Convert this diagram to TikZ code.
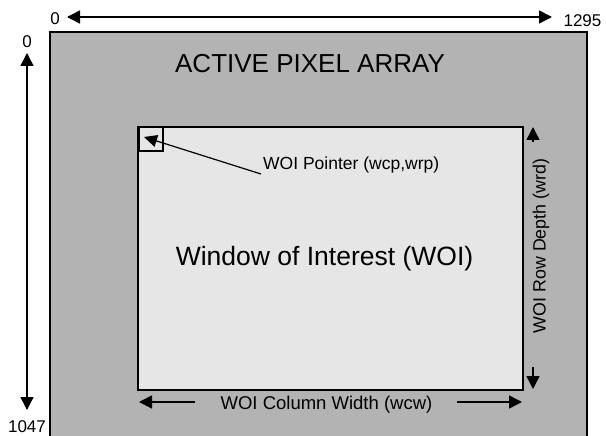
\documentclass[tikz,border=0pt]{standalone}
\usepackage{fontspec}
\setmainfont{Liberation Sans}
\usetikzlibrary{arrows.meta}
\definecolor{arraygray}{HTML}{B3B3B3}
\definecolor{woigray}{HTML}{E6E6E6}
\tikzset{
  dimarrow/.style={line width=1.5pt,-{Triangle[length=13pt,width=13pt]}},
  dimarrows/.style={line width=1.5pt,{Triangle[length=13pt,width=13pt]}-{Triangle[length=13pt,width=13pt]}},
  numlabel/.style={font=\fontsize{17}{20}\selectfont,inner sep=0pt,anchor=base},
  txt/.style={inner sep=0pt,anchor=base}
}
\begin{document}
\begin{tikzpicture}[x=1pt,y=-1pt]
\useasboundingbox (0,0) rectangle (606,436);
\fill[white] (0,0) rectangle (606,436);
% active pixel array
\fill[arraygray] (50,32) rectangle (587,436);
\draw[line width=2pt] (50,437) -- (50,32) -- (587,32) -- (587,437);
\node[txt,font=\fontsize{26}{30}\selectfont] (apa) at (310,73) {ACTIVE PIXEL ARRAY};
% top dimension
\node[numlabel] (x0) at (55,25) {0};
\node[numlabel] (x1) at (582.5,27) {1295};
\coordinate (tl) at (67,17);
\coordinate (tr) at (552,17);
\draw[dimarrows] (tl) -- (tr);
% left dimension
\node[numlabel] (y0) at (27,48) {0};
\node[numlabel] (y1) at (27,432) {1047};
\coordinate (lt) at (27,53);
\coordinate (lb) at (27,410);
\draw[dimarrows] (lt) -- (lb);
% window of interest
\node[draw,line width=2pt,fill=woigray,minimum width=385pt,minimum height=263pt,inner sep=0pt] (woi) at (330.5,258.5) {};
\node[txt,font=\fontsize{26.5}{30}\selectfont] (woitxt) at (324.5,265) {Window of Interest (WOI)};
% pointer box
\node[draw,line width=1.5pt,minimum width=24pt,minimum height=24pt,inner sep=0pt] (pbox) at (151,139) {};
\node[txt,anchor=base west,font=\fontsize{17.5}{20}\selectfont] (ptr) at (263,169) {WOI Pointer (wcp,wrp)};
\coordinate (ptip) at (144,137);
\coordinate (pstart) at (261,174);
\draw[line width=1.2pt,-{Triangle[length=13pt,width=12pt]}] (pstart) -- (ptip);
% row depth
\node[txt,rotate=90,font=\fontsize{17.8}{20}\selectfont] (wrd) at (545.5,246) {WOI Row Depth (wrd)};
\coordinate (ut) at (533,142);
\coordinate (uh) at (533,127);
\draw[dimarrow] (ut) -- (uh);
\coordinate (dt) at (533,367);
\coordinate (dh) at (533,389);
\draw[dimarrow] (dt) -- (dh);
% column width
\node[txt,font=\fontsize{18.5}{20}\selectfont] (wcw) at (326.5,409.5) {WOI Column Width (wcw)};
\coordinate (clt) at (195,402);
\coordinate (clh) at (139,402);
\draw[dimarrow] (clt) -- (clh);
\coordinate (crt) at (457,402);
\coordinate (crh) at (522,402);
\draw[dimarrow] (crt) -- (crh);
\end{tikzpicture}
\end{document}
